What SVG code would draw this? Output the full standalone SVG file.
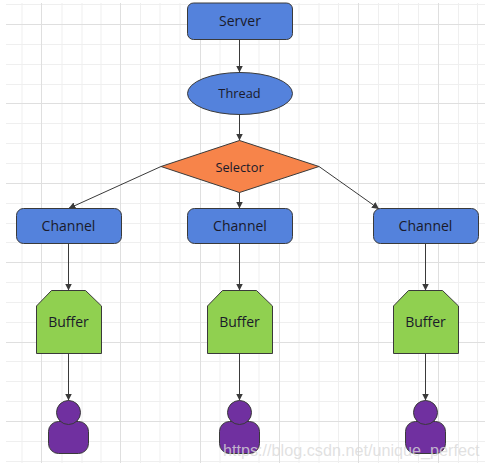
<svg xmlns="http://www.w3.org/2000/svg" width="500" height="463" viewBox="0 0 500 463">
<style>
.minor{stroke:#efefef;stroke-width:1;fill:none}
.major{stroke:#dfdfdf;stroke-width:1;fill:none}
.n{stroke:#3a3a3a;stroke-width:1}
.blue{fill:#5482dc}
.org{fill:#f7844a}
.grn{fill:#90d050}
.pur{fill:#7030a0}
text{font-family:"Open Sans","Noto Sans","Liberation Sans",sans-serif;font-size:14px;fill:#1a1a2a;text-anchor:middle}
.sm{font-size:12.800px}
.c{stroke:#3a3a3a;stroke-width:1;fill:none;marker-end:url(#a)}
.wm{font-family:"Liberation Sans",sans-serif;font-size:16.200px;fill:#d9d9d9;fill-opacity:.8;text-anchor:start}
</style>
<defs><marker id="a" markerUnits="userSpaceOnUse" markerWidth="8" markerHeight="8" refX="7" refY="3.5" orient="auto"><path d="M0 0L7 3.5L0 7z" fill="#3a3a3a"/></marker></defs>
<rect width="500" height="463" fill="#fff"/>
<g id="grid">
<path class="minor" d="M22 3V463M62 3V463M82 3V463M101 3V463M140.500 3V463M160 3V463M180 3V463M220 3V463M259 3V463M299 3V463M319 3V463M338.500 3V463M378.500 3V463M398.500 3V463M418.500 3V463M458.500 3V463M477.500 3V463"/>
<path class="minor" d="M6 4.500H485M6 44.500H485M6 64.500H485M6 84.500H485M6 123.500H485M6 143.500H485M6 163.500H485M6 203.500H485M6 223.500H485M6 242.500H485M6 282.500H485M6 302.500H485M6 322.500H485M6 361.500H485M6 381.500H485M6 401.500H485M6 441.500H485M6 461.500H485"/>
<path class="major" d="M41.500 3V463M120.500 3V463M200.500 3V463M279.500 3V463M358.500 3V463M438.500 3V463"/>
<path class="major" d="M6 24.500H485M6 103.500H485M6 183.500H485M6 262.500H485M6 342.500H485M6 421.500H485"/>
</g>
<g id="connectors">
<path class="c" d="M239.500 39.500V72.500"/>
<path class="c" d="M239.500 114.500V140.500"/>
<path class="c" d="M161 166.500L68.500 208.500"/>
<path class="c" d="M239.500 192.500V208.500"/>
<path class="c" d="M319 166.500L379 209"/>
<path class="c" d="M68.500 243.500V290.500"/>
<path class="c" d="M239.500 243.500V290.500"/>
<path class="c" d="M425.500 243.500V290.500"/>
<path class="c" d="M68.500 353.500V400.500"/>
<path class="c" d="M239.500 353.500V400.500"/>
<path class="c" d="M425.500 353.500V400.500"/>
</g>
<g id="server"><rect class="n blue" x="187.500" y="3" width="105" height="36.500" rx="6"/><text x="240" y="25.500">Server</text></g>
<g id="thread"><ellipse class="n blue" cx="240" cy="93.500" rx="52.500" ry="21"/><text class="sm" x="239.500" y="97.500">Thread</text></g>
<g id="selector"><path class="n org" d="M161 166.500L239.500 140.500L319 166.500L239.500 192.500z"/><text class="sm" x="239.500" y="171.500">Selector</text></g>
<g id="channel1"><rect class="n blue" x="16.500" y="208.500" width="105" height="35" rx="7"/><text x="68.500" y="230.500">Channel</text></g>
<g id="channel2"><rect class="n blue" x="187.500" y="208.500" width="105" height="35" rx="7"/><text x="240" y="230.500">Channel</text></g>
<g id="channel3"><rect class="n blue" x="373.500" y="208.500" width="105" height="35" rx="7"/><text x="425.500" y="230.500">Channel</text></g>
<g id="buffer1"><path class="n grn" d="M51.500 290.500H85.500L101.500 306V353.500H36.500V306z"/><text x="68.500" y="326.500">Buffer</text></g>
<g id="buffer2"><path class="n grn" d="M222.500 290.500H256.500L272.500 306V353.500H207.500V306z"/><text x="239.500" y="326.500">Buffer</text></g>
<g id="buffer3"><path class="n grn" d="M408.500 290.500H442.500L458.500 306V353.500H393.500V306z"/><text x="425.500" y="326.500">Buffer</text></g>
<g id="user1"><rect class="n pur" x="48.500" y="421.500" width="40" height="32" rx="10"/><circle class="n pur" cx="68.500" cy="412.500" r="12"/></g>
<g id="user2"><rect class="n pur" x="219.500" y="421.500" width="40" height="32" rx="10"/><circle class="n pur" cx="239.500" cy="412.500" r="12"/></g>
<g id="user3"><rect class="n pur" x="405.500" y="421.500" width="40" height="32" rx="10"/><circle class="n pur" cx="425.500" cy="412.500" r="12"/></g>
<text class="wm" x="223" y="456">https://blog.csdn.net/unique_perfect</text>
</svg>
